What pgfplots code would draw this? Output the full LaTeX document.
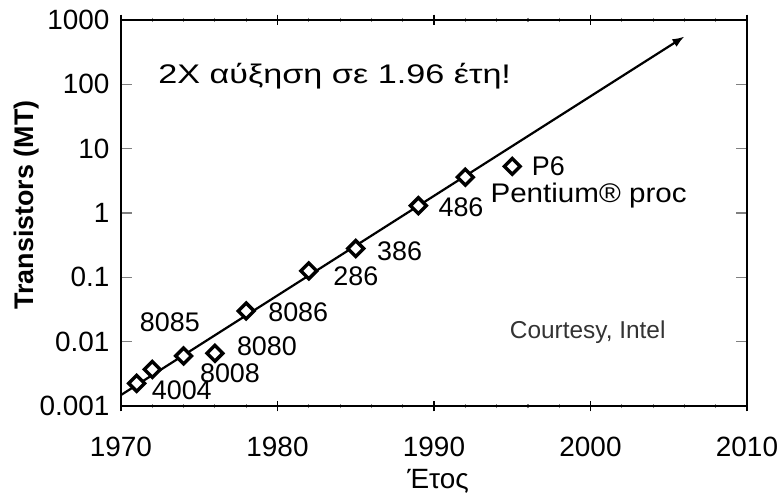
\documentclass[border=0pt]{standalone}
\usepackage{fontspec}
\setmainfont{Liberation Sans}
\usepackage{graphicx}
\usepackage{pgfplots}
\pgfplotsset{compat=1.18}
\usetikzlibrary{arrows.meta}
\begin{document}
\begin{tikzpicture}
\useasboundingbox (-121bp,-92bp) rectangle (662bp,406bp);
\begin{axis}[
  at={(0,0)}, anchor=south west,
  scale only axis,
  width=626bp, height=386bp,
  xmin=1970, xmax=2010,
  ymode=log, ymin=0.001, ymax=1000,
  xtick={1970,1980,1990,2000,2010},
  xticklabels={1970,1980,1990,2000,2010},
  minor x tick num=4,
  ytick={0.001,0.01,0.1,1,10,100,1000},
  yticklabels={0.001,0.01,0.1,1,10,100,1000},
  yminorticks=false,
  axis line style={line width=1.6bp},
  y tick style={line width=1.2bp, gray},
  minor x tick style={line width=1.2bp, gray},
  major tick length=11bp,
  minor tick length=5bp,
  xtick align=center,
  ytick align=inside,
  every x tick/.style={line width=1.4bp, black},
  every tick label/.append style={font=\fontsize{28}{28}\selectfont},
  xticklabel style={yshift=-22bp},
  yticklabel style={xshift=-8bp},
  xlabel={Έτος},
  ylabel={\textbf{Transistors (MT)}},
  every axis x label/.append style={font=\fontsize{28}{28}\selectfont},
  every axis y label/.append style={font=\fontsize{27}{27}\selectfont},
  xlabel style={yshift=-6bp, xshift=4bp},
  ylabel style={yshift=-6bp, xshift=8bp},
  clip=true,
]
\addplot[black, line width=2.2bp, -{Latex[length=12bp,width=9bp]}] coordinates {(1969.5,0.00124) (2006,553)};
\addplot[only marks, mark=square*, mark size=5.6bp,
  mark options={rotate=45, fill=white, draw=black, line width=3.4bp}]
  coordinates {
  (1971,0.00225) (1972,0.0037) (1974,0.0060) (1976,0.0066)
  (1978,0.030) (1982,0.126) (1985,0.28) (1989,1.3)
  (1992,3.6) (1995,5.3)
  };
\begin{scope}[every node/.style={font=\fontsize{27}{27}\selectfont, inner sep=0pt, anchor=base west}]
\node at (rel axis cs:0.049,0.016) {4004};
\node at (rel axis cs:0.126,0.062) {8008};
\node at (rel axis cs:0.185,0.132) {8080};
\node at (rel axis cs:0.030,0.193) {8085};
\node at (rel axis cs:0.235,0.218) {8086};
\node at (rel axis cs:0.339,0.313) {286};
\node at (rel axis cs:0.409,0.378) {386};
\node at (rel axis cs:0.507,0.490) {486};
\node at (rel axis cs:0.590,0.528) {\scalebox{1.1}[1]{Pentium® proc}};
\node at (rel axis cs:0.656,0.598) {P6};
\node at (rel axis cs:0.0595,0.836) {\scalebox{1.27}[1]{2X αύξηση σε 1.96 έτη!}};
\node[font=\fontsize{24.5}{24.5}\selectfont, text=black!80] at (rel axis cs:0.621,0.175) {Courtesy, Intel};
\end{scope}
\end{axis}
\end{tikzpicture}
\end{document}
